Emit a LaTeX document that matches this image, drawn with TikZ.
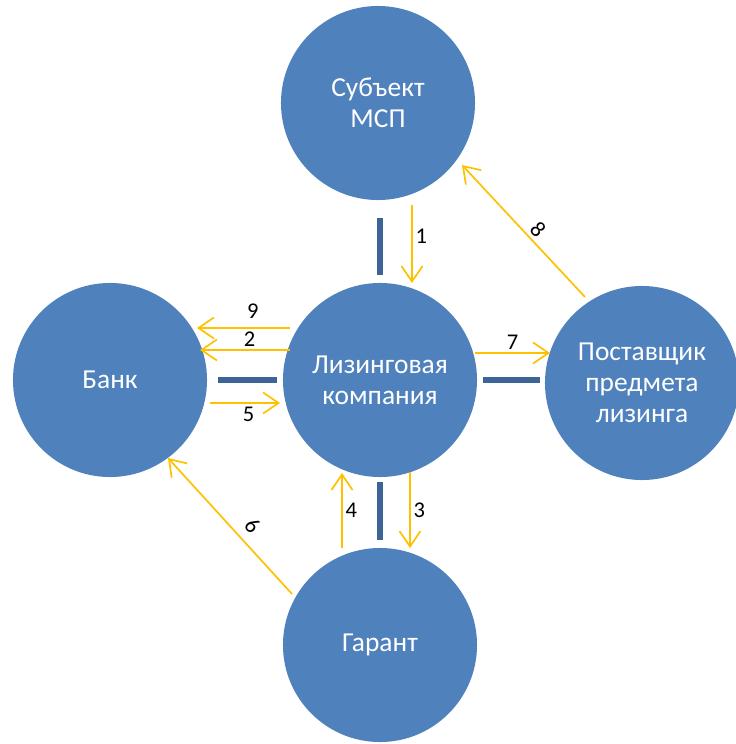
\documentclass[tikz,border=0pt]{standalone}
\usepackage{fontspec}
\setmainfont{Carlito}
\usetikzlibrary{calc,arrows.meta}
\definecolor{partyblue}{HTML}{4F81BD}
\definecolor{linkblue}{HTML}{3C6497}
\definecolor{flowgold}{HTML}{FFC000}

\begin{document}
\begin{tikzpicture}[x=0.025cm,y=-0.025cm,
    party/.style={circle,fill=partyblue,minimum size=4.85cm,inner sep=0pt,
        text=white,align=center,font=\fontsize{19.5}{22}\selectfont},
    flow/.style={draw=flowgold,line width=1.2pt,
        -{Straight Barb[length=11pt,width=15pt,line width=1.2pt]}},
    link/.style={draw=linkblue,line width=4pt},
    num/.style={font=\fontsize{16}{18}\selectfont,inner sep=2pt}]
        \useasboundingbox (0,0) rectangle (736,744);
        % participants
        \node[party] (msp) at (378,103) {Субъект\\МСП};
        \node[party] (lc) at (380,380) {Лизинговая\\компания};
        \node[party] (bank) at (110,380) {Банк};
        \node[party] (supp) at (642,383) {Поставщик\\предмета\\лизинга};
        \node[party] (gar) at (380,645) {Гарант};
        % links
        \draw[link] ($(msp)+(2,115)$) -- ($(lc)+(0,-105)$);
        \draw[link] ($(bank)+(108,0)$) -- ($(lc)+(-103,0)$);
        \draw[link] ($(lc)+(103,0)$) -- ($(supp)+(-102,-3)$);
        \draw[link] ($(lc)+(0,102)$) -- ($(gar)+(0,-105)$);
        % flows
        \draw[flow] ($(msp)+(34,102)$) -- node[num,right,pos=0.4] {1} ($(lc)+(32,-97)$);
        \draw[flow] ($(lc)+(-90,-52)$) -- node[num,above=4pt,pos=0.4] {9} ($(bank)+(87,-52)$);
        \draw[flow] ($(lc)+(-90,-30)$) -- node[num,above,pos=0.45] {2} ($(bank)+(90,-30)$);
        \draw[flow] ($(bank)+(100,23)$) -- node[num,below,pos=0.55] {5} ($(lc)+(-100,23)$);
        \draw[flow] ($(lc)+(95,-27)$) -- node[num,above] {7} ($(supp)+(-92,-30)$);
        \draw[flow] ($(supp)+(-57,-86)$) -- node[num,sloped,above,pos=0.45] {8} ($(msp)+(84,62)$);
        \draw[flow] ($(gar)+(-88,-51)$) -- node[num,sloped,above=4pt,pos=0.42] {6} ($(bank)+(58,78)$);
        \draw[flow] ($(gar)+(-38,-97)$) -- node[num,right,pos=0.5] {4} ($(lc)+(-38,93)$);
        \draw[flow] ($(lc)+(30,92)$) -- node[num,right,pos=0.5] {3} ($(gar)+(30,-97)$);
\end{tikzpicture}
\end{document}
